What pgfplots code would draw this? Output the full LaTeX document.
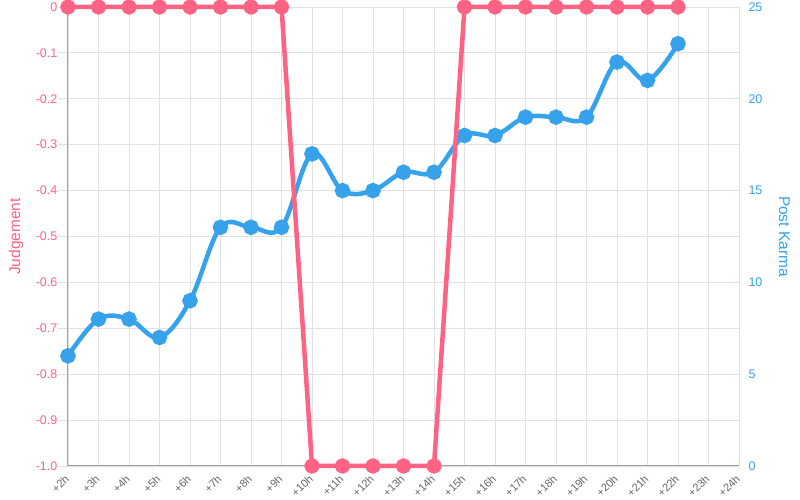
\documentclass[border=0pt]{standalone}
\usepackage{fontspec}
\setmainfont{Liberation Sans}
\usepackage{pgfplots}
\pgfplotsset{compat=1.18}
\definecolor{jred}{RGB}{255,99,132}
\definecolor{kblue}{RGB}{54,162,235}
\definecolor{gridc}{RGB}{225,225,225}
\definecolor{tickc}{RGB}{102,102,102}
\definecolor{axc}{RGB}{160,160,160}
\begin{document}
\begin{tikzpicture}
\pgfplotsset{every axis/.append style={scale only axis, width=671pt, height=459pt, xmin=2, xmax=24, clip=false,
  /pgf/number format/assume math mode=true}}
% base axis: grid, left ticks, x labels
\begin{axis}[
  ymin=-1, ymax=0,
  axis lines=left,
  axis line style={-, draw=axc, line width=1pt},
  grid=major, grid style={gridc, line width=0.8pt},
  xtick={2,...,24},
  xticklabels={+2h,+3h,+4h,+5h,+6h,+7h,+8h,+9h,+10h,+11h,+12h,+13h,+14h,+15h,+16h,+17h,+18h,+19h,+20h,+21h,+22h,+23h,+24h},
  xticklabel style={rotate=45, anchor=east, font=\fontsize{11}{12}\selectfont, text=tickc, xshift=2pt, yshift=0pt},
  xtick style={draw=none},
  ytick={-1,-0.9,...,0},
  yticklabels={-1.0,-0.9,-0.8,-0.7,-0.6,-0.5,-0.4,-0.3,-0.2,-0.1,0},
  yticklabel style={font=\fontsize{12.5}{14}\selectfont, text=jred, inner sep=0.5pt},
  ytick style={draw=gridc, line width=0.8pt},
  major tick length=10pt, tick align=outside,
  ylabel={Judgement},
  ylabel style={at={(axis description cs:-0.0775,0.5)}, anchor=center, font=\fontsize{15.5}{17}\selectfont, text=jred},
]
\end{axis}
% right axis: Post Karma
\begin{axis}[
  ymin=0, ymax=25,
  axis y line*=right, axis x line=none,
  y axis line style={draw=none},
  ytick={0,5,...,25},
  ytick style={draw=none},
  yticklabel style={font=\fontsize{12.5}{14}\selectfont, text=kblue, xshift=6pt},
  ylabel={Post Karma},
  ylabel style={at={(axis description cs:1.0675,0.5)}, anchor=center, rotate=180, font=\fontsize{15.5}{17}\selectfont, text=kblue},
]
\addplot[kblue, line width=4.5pt, smooth, tension=0.6, mark=*, mark size=5.5pt, mark options={draw=none, fill=kblue}]
coordinates {(2,6) (3,8) (4,8) (5,7) (6,9) (7,13) (8,13) (9,13) (10,17) (11,15) (12,15) (13,16) (14,16) (15,18) (16,18) (17,19) (18,19) (19,19) (20,22) (21,21) (22,23)};
\end{axis}
% Judgement series
\begin{axis}[
  ymin=-1, ymax=0, hide axis,
]
\addplot[jred, line width=4.5pt, line join=round, mark=*, mark size=5.5pt, mark options={draw=none, fill=jred}]
coordinates {(2,0) (3,0) (4,0) (5,0) (6,0) (7,0) (8,0) (9,0) (10,-1) (11,-1) (12,-1) (13,-1) (14,-1) (15,0) (16,0) (17,0) (18,0) (19,0) (20,0) (21,0) (22,0)};
\end{axis}
\pgfresetboundingbox
\path[use as bounding box] (-68pt,-34pt) rectangle (732pt,466pt);
\end{tikzpicture}
\end{document}
